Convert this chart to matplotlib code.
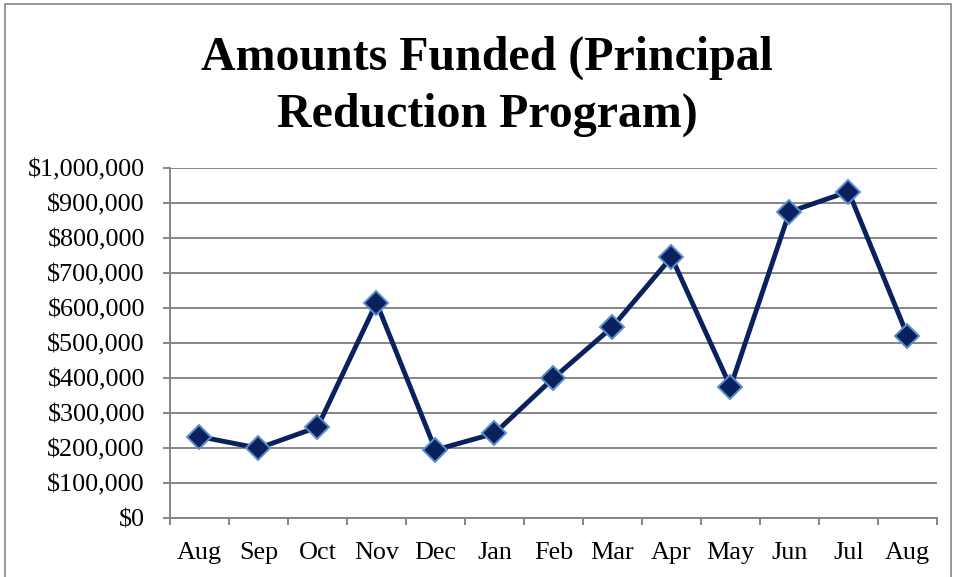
import matplotlib.pyplot as plt
from matplotlib.patches import Rectangle
from matplotlib.ticker import FuncFormatter

months = ['Aug', 'Sep', 'Oct', 'Nov', 'Dec', 'Jan', 'Feb',
          'Mar', 'Apr', 'May', 'Jun', 'Jul', 'Aug']
funded = [233000, 200000, 260000, 615000, 195000, 242000, 400000,
          546000, 745000, 375000, 874000, 932000, 521000]
title = 'Amounts Funded (Principal\nReduction Program)'

plt.rcParams['font.family'] = ['Liberation Serif', 'DejaVu Serif']

W, H = 954, 577
fig = plt.figure(figsize=(W / 100, H / 100), dpi=100)
ax = fig.add_axes([170 / W, 1 - 518.3 / H, (937 - 170) / W, (518.3 - 167.7) / H])

grey = '#868686'
navy = '#0B215E'

x = list(range(len(months)))
ax.plot(x, funded, color=navy, linewidth=3.5, marker='D', markersize=12,
        markerfacecolor=navy, markeredgecolor='#5B8FCB', markeredgewidth=1.4,
        zorder=3, clip_on=False)

ax.set_xlim(-0.5, len(months) - 0.5)
ax.set_ylim(0, 1000000)
ax.set_yticks(range(0, 1000001, 100000))
ax.yaxis.set_major_formatter(FuncFormatter(lambda v, p: '${:,.0f}'.format(v)))

# category labels at centers, tick marks on boundaries
ax.set_xticks(x)
ax.set_xticklabels(months)
ax.set_xticks([i - 0.5 for i in range(len(months) + 1)], minor=True)
ax.tick_params(axis='x', which='major', length=0, pad=17, labelsize=18.8)
ax.tick_params(axis='x', which='minor', length=5, width=1.4, color=grey,
               direction='out')
ax.tick_params(axis='y', length=5, width=1.4, color=grey, pad=13,
               labelsize=18.8)

ax.grid(axis='y', color=grey, linewidth=1.4)
ax.set_axisbelow(True)
for s in ['top', 'right']:
    ax.spines[s].set_visible(False)
for s in ['left', 'bottom']:
    ax.spines[s].set_color(grey)
    ax.spines[s].set_linewidth(1.4)

fig.text(487 / W, 1 - 86.5 / H, title, ha='center', va='center',
         fontsize=34.5, fontweight='bold', linespacing=1.36)

fig.patches.append(Rectangle((5 / W, -0.02), (951 - 5) / W, 1.02 - 4 / H,
                             transform=fig.transFigure, fill=False,
                             edgecolor=grey, linewidth=1.2))

fig.savefig('out.png', dpi=100)
